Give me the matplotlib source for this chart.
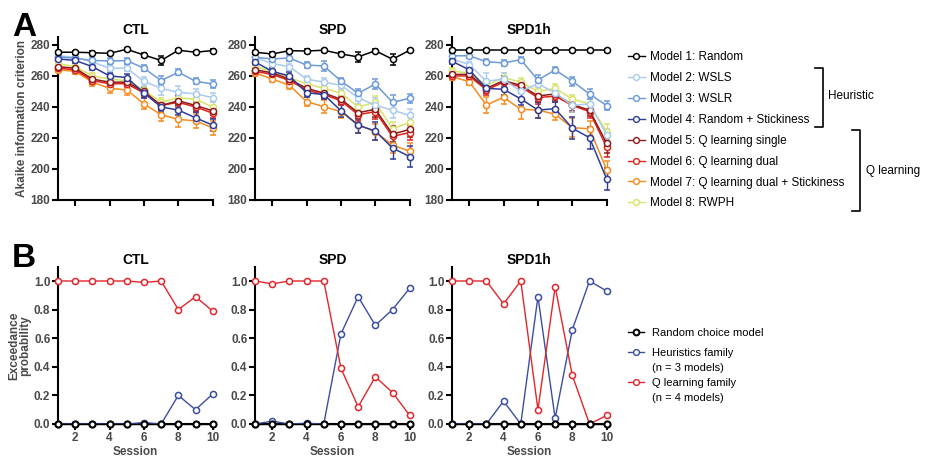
import matplotlib
matplotlib.use("Agg")
import matplotlib.pyplot as plt
from matplotlib.lines import Line2D
import numpy as np

plt.rcParams.update({
    'font.family': ['Liberation Sans', 'DejaVu Sans'],
    'font.size': 8,
    'axes.linewidth': 1.5,
    'xtick.major.width': 1.5,
    'ytick.major.width': 1.5,
    'xtick.major.size': 4,
    'ytick.major.size': 4,
    'xtick.major.pad': 1.5,
    'ytick.major.pad': 1.5,
})

sessions = np.arange(1, 11)
groups = ['CTL', 'SPD', 'SPD1h']

model_labels = ['Model 1: Random', 'Model 2: WSLS', 'Model 3: WSLR',
                'Model 4: Random + Stickiness', 'Model 5: Q learning single',
                'Model 6: Q learning dual', 'Model 7: Q learning dual + Stickiness',
                'Model 8: RWPH']
model_colors = ['#000000', '#a9cbf0', '#6c9ad8', '#2f3d96',
                '#8e1b1b', '#e2231a', '#f68b1f', '#d7e46a']

# AIC means, rows = models 1..8, cols = sessions 1..10
aic_ctl = [
    [275.3, 275.3, 275.0, 274.6, 277.2, 273.5, 270.0, 276.6, 275.3, 276.4],
    [273.0, 272.0, 269.0, 265.0, 265.0, 256.5, 252.0, 249.5, 248.5, 246.0],
    [272.3, 271.4, 270.0, 269.7, 269.9, 265.0, 257.0, 262.4, 256.6, 254.8],
    [271.0, 270.0, 266.0, 260.0, 259.0, 249.0, 240.0, 238.0, 233.0, 228.3],
    [266.0, 265.0, 258.0, 256.0, 256.0, 250.0, 241.0, 244.0, 241.0, 237.5],
    [265.0, 264.0, 257.0, 255.0, 255.0, 249.0, 241.0, 243.0, 240.0, 236.0],
    [264.0, 263.0, 256.0, 252.0, 251.0, 242.0, 235.0, 232.0, 231.0, 226.5],
    [268.0, 266.0, 260.0, 258.0, 257.0, 251.0, 243.0, 246.0, 245.0, 240.0],
]
aic_spd = [
    [275.3, 274.2, 276.3, 276.1, 276.6, 274.2, 272.3, 276.3, 270.8, 276.6],
    [272.0, 268.0, 266.0, 258.0, 256.0, 254.0, 246.0, 241.0, 238.0, 234.5],
    [272.0, 271.0, 271.6, 267.0, 266.5, 256.8, 248.8, 254.8, 243.0, 245.6],
    [269.0, 263.0, 260.0, 249.2, 248.0, 237.6, 228.2, 224.5, 213.5, 208.0],
    [264.0, 262.0, 258.0, 252.0, 249.0, 245.0, 236.3, 238.5, 222.5, 225.5],
    [263.0, 261.0, 257.0, 251.0, 248.0, 244.0, 235.0, 237.0, 221.0, 223.5],
    [262.0, 258.0, 254.0, 243.5, 240.2, 237.0, 228.5, 224.0, 215.4, 211.5],
    [266.0, 263.0, 259.0, 255.0, 252.0, 249.0, 240.0, 243.0, 226.0, 230.0],
]
aic_spd1h = [
    [276.5, 276.5, 276.5, 276.5, 276.5, 276.5, 276.5, 276.5, 276.5, 276.5],
    [271.0, 267.3, 256.6, 258.0, 250.0, 255.0, 249.0, 241.0, 242.0, 222.0],
    [273.0, 273.0, 269.2, 268.4, 270.5, 257.4, 263.9, 256.6, 248.4, 240.9],
    [269.5, 264.0, 252.0, 251.4, 245.2, 238.0, 238.9, 226.3, 220.2, 193.5],
    [261.0, 261.0, 252.0, 257.0, 254.0, 247.1, 248.4, 241.5, 238.0, 216.5],
    [260.0, 260.0, 251.0, 256.0, 253.0, 246.0, 247.0, 241.0, 237.0, 214.0],
    [259.6, 256.3, 241.3, 246.2, 238.5, 238.0, 235.3, 226.6, 226.0, 199.4],
    [263.0, 262.0, 254.0, 259.0, 256.0, 250.0, 252.0, 245.0, 242.0, 224.0],
]

# SEM, same layout
sem_ctl = [
    [1, 1, 1, 1, 1, 1, 3, 1, 1, 1],
    [1.5, 1.5, 2, 2, 2, 3, 4, 4, 3, 3],
    [1.5, 1.5, 2, 2, 2, 2, 3, 2, 2, 2.5],
    [1.5, 1.5, 2, 2, 2.5, 3, 3, 3, 3.5, 4],
    [1.5, 1.5, 2, 2, 2, 2.5, 3, 3, 3, 3],
    [1.5, 1.5, 2, 2, 2, 2.5, 3, 3, 3, 3],
    [1.5, 2, 2.5, 3, 3, 3.5, 4, 5, 4.5, 4.5],
    [1.5, 1.5, 2, 2, 2, 2, 2.5, 2.5, 2.5, 3],
]
sem_spd = [
    [1, 1, 1, 1, 1, 1, 3, 1, 3.5, 1],
    [2, 2, 2, 2, 2.5, 3, 4, 5, 5, 4],
    [2, 2, 2, 2, 3, 2, 3, 3, 5, 3],
    [2, 2, 2.5, 3, 3, 4, 5, 6, 7, 7],
    [2, 2, 2, 3, 3, 3, 4, 5, 5, 5],
    [2, 2, 2, 3, 3, 3, 4, 5, 5, 5],
    [2, 2, 2.5, 3, 4, 4, 5, 5, 5, 5],
    [2, 2, 2, 2, 2.5, 3, 4, 4, 4, 4],
]
sem_spd1h = [
    [0.8, 0.8, 0.8, 0.8, 0.8, 0.8, 0.8, 0.8, 0.8, 0.8],
    [2, 2, 5, 4, 4, 4, 3, 4, 4, 4],
    [1.5, 1.5, 1.5, 2, 1.5, 3, 2, 3, 3, 3],
    [2, 2, 3, 4, 4, 5, 4, 7, 7, 7],
    [2, 2, 3, 3, 3, 4, 4, 4, 4, 6],
    [2, 2, 3, 3, 3, 4, 4, 4, 4, 6],
    [2, 2, 5, 4, 6, 5, 4, 6, 5, 6],
    [2, 2, 3, 3, 3, 3, 3, 3, 3, 5],
]

# Exceedance probabilities
family_colors = ['#000000', '#3c4ea0', '#e3262b']
xp_random = [[0] * 10, [0] * 10, [0] * 10]
xp_heur = [
    [0, 0, 0, 0, 0, 0.01, 0, 0.20, 0.10, 0.21],
    [0, 0.02, 0, 0.005, 0, 0.63, 0.89, 0.69, 0.80, 0.95],
    [0, 0, 0, 0.16, 0, 0.89, 0.04, 0.66, 1.00, 0.93],
]
xp_q = [
    [1.0, 1.0, 1.0, 1.0, 1.0, 0.99, 1.0, 0.80, 0.89, 0.79],
    [1.0, 0.98, 1.0, 1.0, 1.0, 0.39, 0.12, 0.33, 0.22, 0.06],
    [1.0, 1.0, 1.0, 0.84, 1.0, 0.10, 0.96, 0.34, 0.0, 0.06],
]

W, H = 928, 458
fig = plt.figure(figsize=(W / 100, H / 100), dpi=100)

lefts = [58, 255, 452]
ax_w = 154.7
tick_color = '#4a4a4a'
draw_order = [7, 6, 5, 4, 1, 2, 3, 0]


def style_axis(ax):
    for s in ['top', 'right']:
        ax.spines[s].set_visible(False)
    ax.tick_params(labelcolor=tick_color)
    for lab in ax.get_xticklabels() + ax.get_yticklabels():
        lab.set_fontweight('bold')
        lab.set_fontsize(8.5)


means = [aic_ctl, aic_spd, aic_spd1h]
sems = [sem_ctl, sem_spd, sem_spd1h]
for g, name in enumerate(groups):
    ax = fig.add_axes([lefts[g] / W, 1 - 200 / H, ax_w / W, 162.8 / H])
    for m in draw_order:
        ax.errorbar(sessions, means[g][m], yerr=sems[g][m], color=model_colors[m],
                    lw=1.1, marker='o', ms=4.4, mfc='white', mec=model_colors[m],
                    mew=1.1, capsize=2, elinewidth=1.0, capthick=1.0,
                    clip_on=False, zorder=3)
    ax.set_xlim(1, 10)
    ax.set_ylim(180, 285)
    ax.set_yticks([180, 200, 220, 240, 260, 280])
    ax.set_xticks([2, 4, 6, 8, 10])
    ax.set_xticklabels([])
    ax.set_title(name, fontsize=10, fontweight='bold', pad=1.5)
    style_axis(ax)
    if g == 0:
        ax.set_ylabel('Akaike information criterion', fontsize=8.5,
                      fontweight='bold', color=tick_color, labelpad=2)

xp_sets = [xp_random, xp_heur, xp_q]
for g, name in enumerate(groups):
    ax = fig.add_axes([lefts[g] / W, 1 - 424 / H, ax_w / W, 157.3 / H])
    for f in [1, 2, 0]:
        ax.plot(sessions, xp_sets[f][g], color=family_colors[f], lw=1.0,
                marker='o', ms=4.4, mfc='white', mec=family_colors[f],
                mew=1.1 if f else 1.5, clip_on=False, zorder=3 if f else 4)
    ax.set_xlim(1, 10)
    ax.set_ylim(0, 1.1)
    ax.set_yticks([0, 0.2, 0.4, 0.6, 0.8, 1.0])
    ax.set_yticklabels(['0.0', '0.2', '0.4', '0.6', '0.8', '1.0'])
    ax.set_xticks([2, 4, 6, 8, 10])
    ax.set_title(name, fontsize=10, fontweight='bold', pad=1.5)
    ax.set_xlabel('Session', fontsize=8.5, fontweight='bold', color=tick_color,
                  labelpad=1.5)
    style_axis(ax)
    if g == 0:
        ax.set_ylabel('Exceedance\nprobability', fontsize=8.5, fontweight='bold',
                      color=tick_color, labelpad=2, linespacing=0.9)

# panel letters
fig.text(12 / W, 1 - 36 / H, 'A', fontsize=24, fontweight='bold', va='baseline')
fig.text(12 / W, 1 - 267 / H, 'B', fontsize=24, fontweight='bold', va='baseline')

# legend A
hA = [Line2D([], [], color=c, lw=1.0, marker='o', ms=4.2, mfc='white', mec=c, mew=1.0)
      for c in model_colors]
fig.legend(hA, model_labels, loc='upper left', bbox_to_anchor=(628 / W, 1 - 51.5 / H),
           frameon=False, fontsize=8.5, labelspacing=0.75, handlelength=1.4,
           handletextpad=0.45, borderpad=0, borderaxespad=0)

# brackets
def bracket(x, y0, y1, tick=8):
    xs = [(x - tick) / W, x / W, x / W, (x - tick) / W]
    ys = [1 - y0 / H, 1 - y0 / H, 1 - y1 / H, 1 - y1 / H]
    fig.add_artist(Line2D(xs, ys, color='black', lw=1.2, transform=fig.transFigure))

bracket(823, 68, 127)
bracket(860, 130, 211)
fig.text(828 / W, 1 - 96 / H, 'Heuristic', fontsize=8.5, va='center')
fig.text(866 / W, 1 - 171 / H, 'Q learning', fontsize=8.5, va='center')

# legend B (first line of each family entry carries the marker)
def fam_handle(c, mew=1.0):
    return Line2D([], [], color=c, lw=1.0, marker='o', ms=4.2, mfc='white', mec=c, mew=mew)

blank = Line2D([], [], color='none')
fig.legend([fam_handle(family_colors[0], 1.4)], ['Random choice model'],
           loc='upper left', bbox_to_anchor=(628 / W, 1 - 328 / H),
           frameon=False, fontsize=8, handlelength=1.4, handletextpad=0.8,
           borderpad=0, borderaxespad=0)
fig.legend([fam_handle(family_colors[1]), blank, fam_handle(family_colors[2]), blank],
           ['Heuristics family', '(n = 3 models)', 'Q learning family', '(n = 4 models)'],
           loc='upper left', bbox_to_anchor=(628 / W, 1 - 348 / H),
           frameon=False, fontsize=8, labelspacing=0.45, handlelength=1.4,
           handletextpad=0.8, borderpad=0, borderaxespad=0)

fig.savefig('out.png', dpi=100, facecolor='white')
